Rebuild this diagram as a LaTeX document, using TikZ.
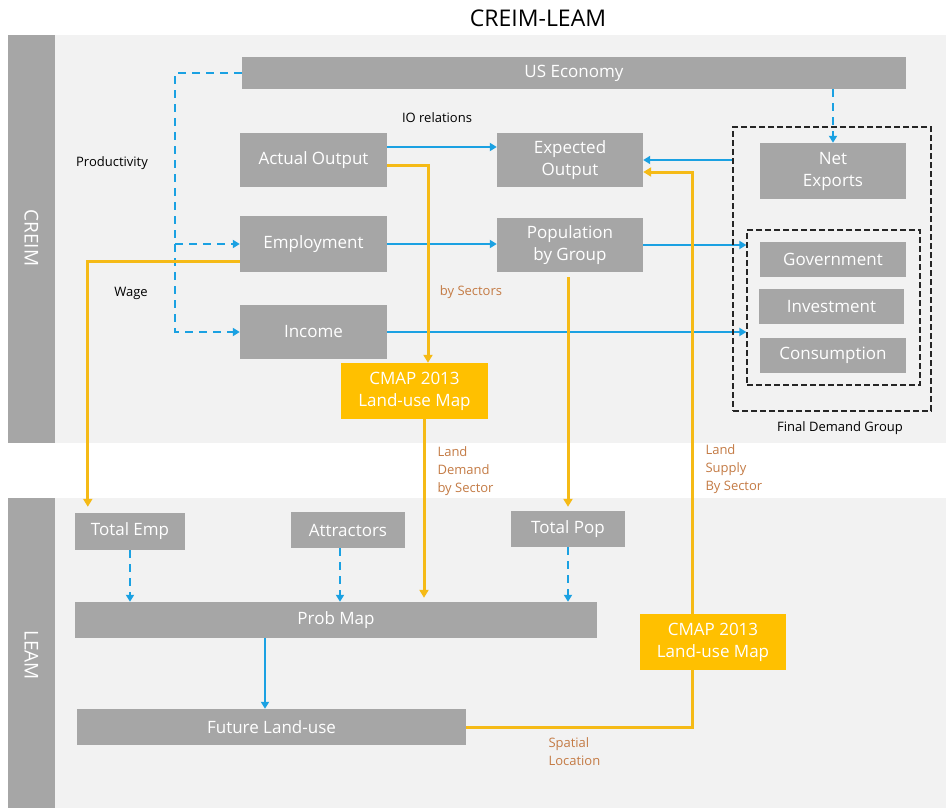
\documentclass[tikz,border=0pt]{standalone}
\usepackage{fontspec}
\setmainfont{Open Sans}
\usetikzlibrary{arrows.meta, positioning, calc}

\definecolor{boxgray}{HTML}{A6A6A6}
\definecolor{panelgray}{HTML}{F2F2F2}
\definecolor{flowblue}{HTML}{1BA1E2}
\definecolor{landyellow}{HTML}{FFC000}
\definecolor{lineyellow}{HTML}{F5BA16}
\definecolor{notebrown}{HTML}{C47B45}

\pgfdeclarelayer{panels}
\pgfdeclarelayer{links}
\pgfsetlayers{panels,links,main}

\begin{document}
\begin{tikzpicture}[
    x=1pt, y=-1pt,
    block/.style={rectangle, fill=boxgray, text=white, inner sep=0pt, align=center, font=\fontsize{17}{22}\selectfont},
    landmap/.style={block, fill=landyellow},
    group/.style={rectangle, draw=black!85, line width=1.2pt, dash pattern=on 6pt off 3pt},
    blueflow/.style={draw=flowblue, line width=2.2pt, -{Triangle[width=8pt,length=7pt]}},
    bluedash/.style={blueflow, dash pattern=on 8pt off 6pt},
    landflow/.style={draw=lineyellow, line width=3pt, -{Triangle[width=9pt,length=8pt]}},
    note/.style={font=\fontsize{13}{18}\selectfont, text=black},
    brownnote/.style={note, text=notebrown, align=left, anchor=west},
    sidebar/.style={rotate=-90, text=white, font=\fontsize{19}{22}\selectfont}
]
    \useasboundingbox (0,0) rectangle (946,808);

    % panels
    \begin{pgfonlayer}{panels}
        \fill[white] (0,0) rectangle (946,808);
        \fill[panelgray] (8,35) rectangle (946,443);
        \fill[boxgray] (8,35) rectangle (55,443);
        \fill[panelgray] (8,498) rectangle (946,808);
        \fill[boxgray] (8,498) rectangle (55,808);
    \end{pgfonlayer}
    \node[font=\fontsize{23}{26}\selectfont] (title) at (538,18) {CREIM-LEAM};
    \node[sidebar] (creim) at (31.5,238) {CREIM};
    \node[sidebar] (leam) at (31.5,655) {LEAM};

    % CREIM blocks
    \node[block, minimum width=664, minimum height=32] (useco) at (574,73) {US Economy};
    \node[block, minimum width=147, minimum height=54] (actual) at (313.5,160) {Actual Output};
    \node[block, minimum width=146, minimum height=54] (expected) at (570,160) {Expected\\Output};
    \node[block, minimum width=146, minimum height=56] (netexp) at (833,171) {Net\\Exports};
    \node[block, minimum width=147, minimum height=56] (employ) at (313.5,244) {Employment};
    \node[block, minimum width=146, minimum height=54] (popgrp) at (570,245) {Population\\by Group};
    \node[block, minimum width=146, minimum height=35] (govt) at (833,259.5) {Government};
    \node[block, minimum width=145, minimum height=35] (invest) at (831.5,306.5) {Investment};
    \node[block, minimum width=146, minimum height=35] (consum) at (833,355.5) {Consumption};
    \node[block, minimum width=147, minimum height=54] (income) at (313.5,332) {Income};
    \node[landmap, minimum width=147, minimum height=56] (cmaptop) at (414.5,391) {CMAP 2013\\Land-use Map};

    \node[group, minimum width=198, minimum height=284] (fdouter) at (832,269) {};
    \node[group, minimum width=173, minimum height=155] (fdinner) at (833.5,307.5) {};
    \node[note] (fdlabel) at (840,428) {Final Demand Group};

    % LEAM blocks
    \node[block, minimum width=110, minimum height=37] (totemp) at (130,531.5) {Total Emp};
    \node[block, minimum width=114, minimum height=36] (attract) at (348,530) {Attractors};
    \node[block, minimum width=114, minimum height=36] (totpop) at (568,529) {Total Pop};
    \node[block, minimum width=522, minimum height=36] (probmap) at (336,620) {Prob Map};
    \node[landmap, minimum width=146, minimum height=56] (cmapbot) at (713,642) {CMAP 2013\\Land-use Map};
    \node[block, minimum width=389, minimum height=36] (future) at (271.5,727) {Future Land-use};

    % labels
    \node[note] (iolabel) at (437,118) {IO relations};
    \node[note] (prodlabel) at (112,163) {Productivity};
    \node[note] (wagelabel) at (131,293) {Wage};
    \node[note, text=notebrown] (seclabel) at (471,292) {by Sectors};
    \node[brownnote] (demlabel) at (434,471) {Land\\Demand\\by Sector};
    \node[brownnote] (suplabel) at (702,469) {Land\\Supply\\By Sector};
    \node[brownnote] (spalabel) at (545,752) {Spatial\\Location};

    \coordinate (prodline) at (175,0);

    \begin{pgfonlayer}{links}
        % blue flows
        \draw[bluedash] (useco.west) -| (prodline |- income.west) -- (income.west);
        \draw[bluedash] (prodline |- employ.west) -- (employ.west);
        \draw[bluedash] (useco.south -| netexp.north) -- (netexp.north);
        \draw[blueflow] ([yshift=13pt]actual.east) -- ([yshift=13pt]expected.west);
        \draw[blueflow] (fdouter.west |- expected.east) -- (expected.east);
        \draw[blueflow] (employ.east) -- (employ.east -| popgrp.west);
        \draw[blueflow] (popgrp.east) -- (popgrp.east -| fdinner.west);
        \draw[blueflow] (income.east) -- (income.east -| fdinner.west);
        \draw[bluedash] (totemp.south) -- (totemp.south |- probmap.north);
        \draw[bluedash] ([xshift=-8pt]attract.south) -- ([xshift=-8pt]attract.south |- probmap.north);
        \draw[bluedash] (totpop.south) -- (totpop.south |- probmap.north);
        \draw[blueflow] ([xshift=-71pt]probmap.south) -- ([xshift=-71pt]probmap.south |- future.north);

        % yellow flows
        \draw[landflow] ([yshift=-5pt]actual.east) -| ([xshift=13.5pt]cmaptop.north);
        \draw[landflow, shorten >=6pt] ([yshift=-17pt]employ.west) -| ([xshift=13pt]totemp.north west);
        \draw[landflow, shorten >=4pt] ([xshift=9.5pt]cmaptop.south) -- ([xshift=9.5pt]cmaptop.south |- probmap.north);
        \draw[landflow, shorten <=5pt, shorten >=4pt] (totpop.north |- popgrp.south) -- (totpop.north);
        \draw[landflow, -] (future.east) -| ([xshift=-21pt]cmapbot.south);
        \draw[landflow] ([xshift=-21pt]cmapbot.north) |- ([yshift=-12pt]expected.east);
    \end{pgfonlayer}
\end{tikzpicture}
\end{document}
